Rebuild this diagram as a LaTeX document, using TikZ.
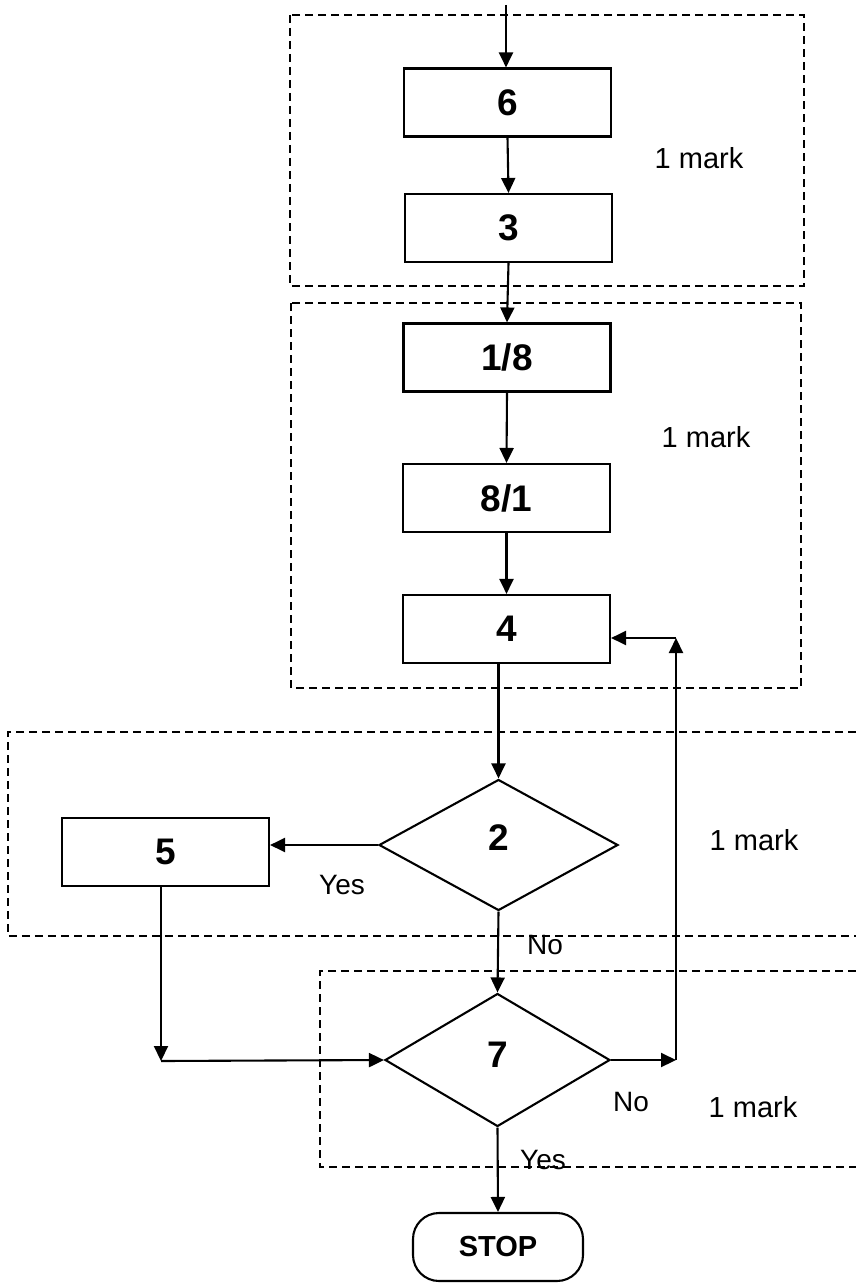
\documentclass[tikz,border=0pt]{standalone}
\usepackage{fontspec}
\setmainfont{Liberation Sans}
\usetikzlibrary{arrows.meta,shapes.geometric}
\begin{document}
\begin{tikzpicture}[x=1pt,y=-1pt,
  box/.style={draw,line width=2.1pt,minimum width=207pt,minimum height=68pt,inner sep=0pt,font=\fontsize{37}{44}\selectfont\bfseries},
  dec/.style={draw,diamond,aspect=1.8,line width=2.1pt,inner sep=0pt,font=\fontsize{37}{44}\selectfont\bfseries},
  conn/.style={line width=2.1pt,-{Triangle[length=15pt,width=14pt]}},
  group/.style={draw,line width=1.6pt,dash pattern=on 8pt off 5pt},
  marklab/.style={font=\fontsize{29}{35}\selectfont},
  lab/.style={font=\fontsize{28}{33}\selectfont}]
\useasboundingbox (0,0) rectangle (856,1284);

% dashed groups
\draw[group] (290,15) rectangle (804,286);
\draw[group] (291,303) rectangle (801,688);
\draw[group] (856,732) -- (8,732) -- (8,936) -- (856,936);
\draw[group] (856,971) -- (320,971) -- (320,1167) -- (856,1167);

% nodes
\node[box] (b6) at (507.5,102.5) {6};
\node[box] (b3) at (508.5,228) {3};
\node[box] (b18) at (507,357.5) {1/8};
\node[box] (b81) at (506.5,498) {8/1};
\node[box] (b4) at (506.5,629) {4};
\node[dec,minimum width=239pt,minimum height=131pt] (d2) at (498.5,845) {};
\node[font=\fontsize{37}{44}\selectfont\bfseries] (t2) at (498.5,838) {2};
\node[box] (b5) at (165.5,852) {5};
\node[dec,minimum width=225pt,minimum height=133pt] (d7) at (497.5,1060) {};
\node[font=\fontsize{37}{44}\selectfont\bfseries] (t7) at (497.5,1055) {7};
\node[draw,line width=2.1pt,rounded corners=26pt,minimum width=170pt,minimum height=68pt,inner sep=0pt,font=\fontsize{29}{35}\selectfont\bfseries] (stop) at (498,1247) {STOP};

% coordinates
\coordinate (top) at (506,5);
\coordinate (c5) at (161,1061);
\coordinate (l1) at (676,1060);
\coordinate (l2) at (676,638);

% connectors
\draw[conn] (top) -- (top |- b6.north);
\draw[conn] (b6.south) -- (b3.north);
\draw[conn] (b3.south) -- (b18.north);
\draw[conn] (b18.south) -- (b81.north);
\draw[conn] (b81.south) -- (b4.north);
\draw[conn] (b4.south -| d2.north) -- (d2.north);
\draw[conn] (d2.west) -- (d2.west -| b5.east);
\draw[conn] (b5.south -| c5) -- (c5);
\draw[conn] (c5) -- (d7.west);
\draw[conn] (d2.south) -- (d7.north);
\draw[conn] (d7.east) -- (l1);
\draw[conn] (l1) -- (l2);
\draw[conn] (l2) -- (l2 -| b4.east);
\draw[conn] (d7.south) -- (stop.north);

% labels
\node[lab] (yes1) at (342,885) {Yes};
\node[lab] (no1) at (545,945) {No};
\node[lab] (no2) at (631,1102) {No};
\node[lab] (yes2) at (543,1160) {Yes};
\node[marklab] (m1) at (699,158) {1 mark};
\node[marklab] (m2) at (706,437) {1 mark};
\node[marklab] (m3) at (754,840) {1 mark};
\node[marklab] (m4) at (753,1107) {1 mark};
\end{tikzpicture}
\end{document}
